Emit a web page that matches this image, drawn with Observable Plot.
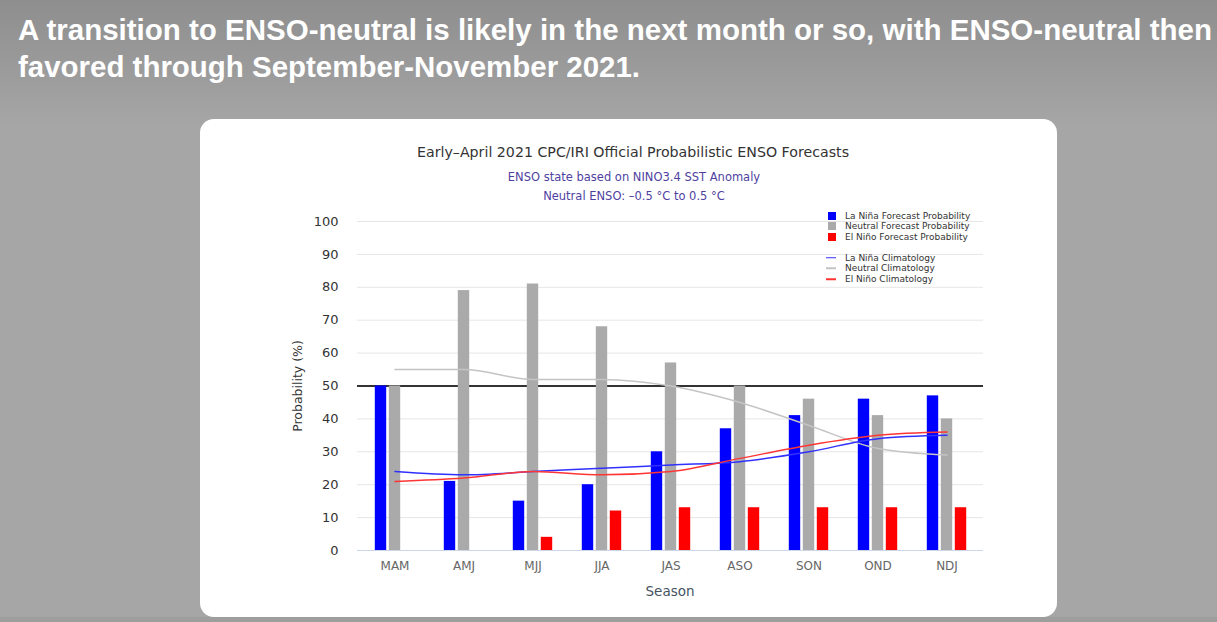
<!DOCTYPE html>
<html><head><meta charset="utf-8">
<script src="https://cdn.jsdelivr.net/npm/d3@7"></script>
<script src="https://cdn.jsdelivr.net/npm/@observablehq/plot@0.6"></script>
<style>
html,body{margin:0;padding:0;}
body{width:1217px;height:622px;position:relative;overflow:hidden;
 background:linear-gradient(to bottom,#8e8e8e 0px,#9b9b9b 70px,#a6a6a6 125px,#a6a6a6 617px,#9e9e9e 617px);
 font-family:"DejaVu Sans",sans-serif;}
#head{position:absolute;left:0;top:0;}
#card{position:absolute;left:200px;top:119px;width:857px;height:498px;background:#fff;border-radius:14px;}
.c{position:absolute;white-space:nowrap;transform:translate(-50%,-50%);}
#chart{position:absolute;left:280px;top:200px;}
.lg{position:absolute;white-space:nowrap;font-size:9px;color:#333;transform:translateY(-50%);}
.sw{position:absolute;width:8px;height:8px;transform:translateY(-50%);}
.ln{position:absolute;width:10px;height:1.5px;transform:translateY(-50%);}
</style></head>
<body>
<svg id="head" width="1217" height="100">
 <text x="18" y="40" fill="#fff" font-family="Liberation Sans, sans-serif" font-weight="bold" font-size="29" textLength="1194" lengthAdjust="spacingAndGlyphs">A transition to ENSO-neutral is likely in the next month or so, with ENSO-neutral then</text>
 <text x="18" y="77" fill="#fff" font-family="Liberation Sans, sans-serif" font-weight="bold" font-size="29" textLength="622" lengthAdjust="spacingAndGlyphs">favored through September-November 2021.</text>
</svg>
<div id="card"></div>
<div class="c" style="left:633px;top:152px;font-size:14.2px;color:#333;">Early–April 2021 CPC/IRI Official Probabilistic ENSO Forecasts</div>
<div class="c" style="left:634px;top:177px;font-size:11.5px;color:#4f3f9f;">ENSO state based on NINO3.4 SST Anomaly</div>
<div class="c" style="left:634px;top:196px;font-size:11.5px;color:#4f3f9f;">Neutral ENSO: –0.5 °C to 0.5 °C</div>
<div id="chart"></div>
<div class="c" style="left:297px;top:386px;font-size:12.5px;color:#333;transform:translate(-50%,-50%) rotate(-90deg);">Probability (%)</div>
<div class="c" style="left:670px;top:591px;font-size:13.5px;color:#46535f;">Season</div>
<div id="legend"></div>
<script>
const seasons = ["MAM","AMJ","MJJ","JJA","JAS","ASO","SON","OND","NDJ"];
const laNina = [50,21,15,20,30,37,41,46,47];
const neutral = [50,79,81,68,57,50,46,41,40];
const elNino = [0,0,4,12,13,13,13,13,13];
const laNinaClim = [24,23,24,25,26,27,30,34,35];
const neutralClim = [55,55,52,52,50,45,38,31,29];
const elNinoClim = [21,22,24,23,24,28,32,35,36];
const yTicks = [0,10,20,30,40,50,60,70,80,90,100];
const legendBars = ["La Niña Forecast Probability","Neutral Forecast Probability","El Niño Forecast Probability"];
const legendLines = ["La Niña Climatology","Neutral Climatology","El Niño Climatology"];
const colors = ["#0000ff","#aaaaaa","#ff0000"];
const lineColors = ["#3030ff","#c4c4c4","#ff3535"];

const rows = seasons.map((s,i)=>({season:s, laNina:laNina[i], neutral:neutral[i], elNino:elNino[i],
  laNinaClim:laNinaClim[i], neutralClim:neutralClim[i], elNinoClim:elNinoClim[i]}));

const inset = 28.8;
const chart = Plot.plot({
  width: 720, height: 400,
  marginLeft: 77, marginRight: 17, marginTop: 21, marginBottom: 50,
  style: {background: "transparent", fontFamily: "DejaVu Sans, sans-serif"},
  x: {type: "band", domain: seasons, padding: 0},
  y: {domain: [0, 100]},
  marks: [
    Plot.gridY(yTicks, {stroke: "#e6e6e6", strokeOpacity: 1}),
    Plot.ruleY([50], {stroke: "#333", strokeWidth: 2}),
    Plot.barY(rows.filter(d=>d.laNina>0), {x: "season", y: "laNina", fill: colors[0], dx: -14, insetLeft: inset, insetRight: inset}),
    Plot.barY(rows.filter(d=>d.neutral>0), {x: "season", y: "neutral", fill: colors[1], dx: 0, insetLeft: inset, insetRight: inset}),
    Plot.barY(rows.filter(d=>d.elNino>0), {x: "season", y: "elNino", fill: colors[2], dx: 14, insetLeft: inset, insetRight: inset}),
    Plot.ruleY([0], {stroke: "#ccd6eb"}),
    Plot.line(rows, {x: "season", y: "neutralClim", stroke: lineColors[1], strokeWidth: 1.5, curve: "monotone-x"}),
    Plot.line(rows, {x: "season", y: "laNinaClim", stroke: lineColors[0], strokeWidth: 1.5, curve: "monotone-x"}),
    Plot.line(rows, {x: "season", y: "elNinoClim", stroke: lineColors[2], strokeWidth: 1.5, curve: "monotone-x"}),
    Plot.axisY(yTicks, {tickSize: 0, tickPadding: 19, fontSize: 13, fill: "#333", label: null}),
    Plot.axisX({tickSize: 0, tickPadding: 11, fontSize: 12, fill: "#666", label: null})
  ]
});
document.getElementById("chart").appendChild(chart);

const lg = document.getElementById("legend");
const barY = [215.5, 226, 236.7];
const lineY = [257.5, 268.3, 279.2];
legendBars.forEach((t,i)=>{
  lg.insertAdjacentHTML("beforeend", `<div class="sw" style="left:828px;top:${barY[i]}px;background:${colors[i]}"></div><div class="lg" style="left:845px;top:${barY[i]}px">${t}</div>`);
});
legendLines.forEach((t,i)=>{
  lg.insertAdjacentHTML("beforeend", `<div class="ln" style="left:826px;top:${lineY[i]}px;background:${lineColors[i]}"></div><div class="lg" style="left:845px;top:${lineY[i]}px">${t}</div>`);
});
</script>
</body></html>
